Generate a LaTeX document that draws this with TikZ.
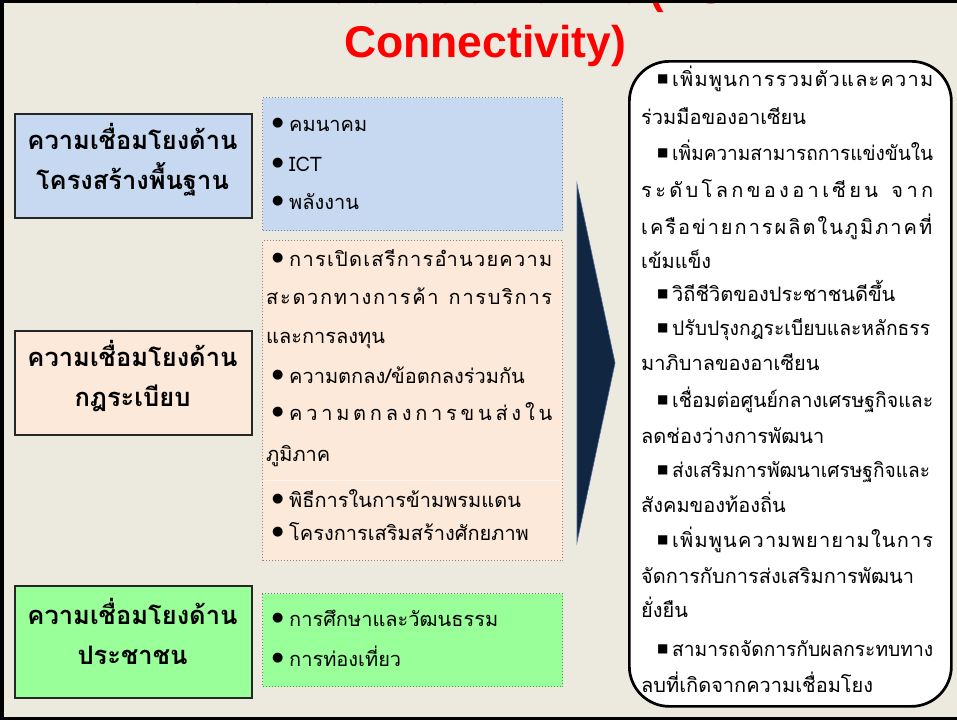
\documentclass[tikz,border=0pt]{standalone}
\usepackage{fontspec}
\newfontfamily\thai[Script=Thai]{Loma}
\newfontfamily\symf{DejaVu Sans}
\newfontfamily\latinb{Liberation Sans}
\definecolor{bgc}{RGB}{236,233,223}
\definecolor{bluefill}{RGB}{198,217,240}
\definecolor{peachfill}{RGB}{253,233,217}
\definecolor{greenfill}{RGB}{153,255,153}
\definecolor{navy}{RGB}{17,38,64}
\definecolor{navyedge}{RGB}{70,100,150}
\definecolor{bluedot}{RGB}{120,135,160}
\definecolor{peachdot}{RGB}{150,130,115}
\definecolor{greendot}{RGB}{100,140,100}
\ExplSyntaxOn
\box_new:N \l_my_line_box
\NewDocumentCommand\fitline{m m}{
  \seq_set_split:Nnn \l_tmpa_seq {|} {#2}
  \hbox_set:Nn \l_my_line_box {\seq_use:Nn \l_tmpa_seq {}}
  \dim_compare:nNnTF {\box_wd:N \l_my_line_box} < {#1}
    {\hbox_to_wd:nn {#1} {\seq_use:Nn \l_tmpa_seq {\hfil}}}
    {
      \box_scale:Nnn \l_my_line_box
        {\fp_eval:n {\dim_to_fp:n {#1} / \dim_to_fp:n {\box_wd:N \l_my_line_box}}} {1}
      \box_use:N \l_my_line_box
    }
}
\ExplSyntaxOff
\newcommand\cbul{\makebox[17pt][l]{\symf\fontsize{13}{13}\selectfont\raisebox{4.5pt}{●}}}
\newcommand\sbul{\makebox[15pt][l]{\symf\fontsize{12}{12}\selectfont\raisebox{3.5pt}{■}}}
\tikzset{
  lbl/.style={draw=black!85, line width=1.6pt, inner sep=0, anchor=north west, minimum width=237pt, minimum height=104pt},
  cbox/.style={dotted, line width=1pt, inner sep=0, anchor=north west, minimum width=300pt},
  hd/.style={anchor=base, inner sep=0, font=\thai\bfseries\fontsize{25.5}{30}\selectfont},
  ln/.style={anchor=base west, inner sep=0, font=\thai\fontsize{20}{24}\selectfont},
  rn/.style={anchor=base west, inner sep=0, font=\thai\fontsize{20}{24}\selectfont},
}
\begin{document}
\begin{tikzpicture}[x=1pt,y=-1pt]
\useasboundingbox (0,0) rectangle (957,720);
\fill[bgc] (0,0) rectangle (957,720);
% clipped first title line
\begin{scope}
\clip (0,0) rectangle (957,720);
\node[anchor=base, inner sep=0, text=red, font=\thai\bfseries\fontsize{44}{50}\selectfont] (t1) at (485,3.8) {ความเชื่อมโยงในอาเซียน {\latinb\bfseries (ASEAN}};
\end{scope}
\node[anchor=base, inner sep=0, text=red, font=\latinb\bfseries\fontsize{44.5}{50}\selectfont] (t2) at (485,57) {Connectivity)};
% frame
\draw[line width=3.5pt] (1.75,1.5) rectangle (970,718.25);
% content boxes
\node[cbox, draw=bluedot, fill=bluefill, minimum height=133pt] (cb1) at (262,97) {};
\node[cbox, draw=peachdot, fill=peachfill, minimum height=320pt] (cb2) at (262,240) {};
\node[cbox, draw=greendot, fill=greenfill, minimum height=93pt] (cb3) at (262,593) {};
\draw[white!55!peachfill, line width=1pt] (263,480) -- (561,480);
% label boxes
\node[lbl, fill=bluefill] (lb1) at (14,113) {};
\node[lbl, fill=peachfill] (lb2) at (14,330) {};
\node[lbl, fill=greenfill, minimum height=112pt] (lb3) at (14,585) {};
% arrow
\fill[navy, draw=navyedge, line width=0.6pt] (577,184) -- (615,363) -- (577,542) -- cycle;
% right box
\node[draw=black, line width=2.7pt, fill=white, rounded corners=40pt, inner sep=0, anchor=north west, minimum width=322pt, minimum height=645pt] (rb) at (628,60) {};
% label texts
\node[hd] (h1a) at (132.5,149) {ความเชื่อมโยงด้าน};
\node[hd] (h1b) at (132.5,189) {โครงสร้างพื้นฐาน};
\node[hd] (h2a) at (132.5,366) {ความเชื่อมโยงด้าน};
\node[hd] (h2b) at (132.5,406) {กฎระเบียบ};
\node[hd] (h3a) at (132.5,624) {ความเชื่อมโยงด้าน};
\node[hd] (h3b) at (132.5,664) {ประชาชน};
% blue content
\node[ln] (b1) at (272,131) {\cbul คมนาคม};
\node[ln] (b2) at (272,171) {\cbul ICT};
\node[ln] (b3) at (272,209) {\cbul พลังงาน};
% peach content
\node[ln] (p1) at (272,266) {\cbul\fitline{263pt}{ก|า|ร|เ|ปิ|ด|เ|ส|รี|ก|า|ร|อำ|น|ว|ย|ค|ว|า|ม}};
\node[ln] (p2) at (266,304) {\fitline{286pt}{ส|ะ|ด|ว|ก|ท|า|ง|ก|า|ร|ค้|า|\ |ก|า|ร|บ|ริ|ก|า|ร}};
\node[ln] (p3) at (266,343) {และการลงทุน};
\node[ln] (p4) at (272,383) {\cbul ความตกลง/ข้อตกลงร่วมกัน};
\node[ln] (p5) at (272,420) {\cbul\fitline{263pt}{ค|ว|า|ม|ต|ก|ล|ง|ก|า|ร|ข|น|ส่|ง|ใ|น}};
\node[ln] (p6) at (266,461) {ภูมิภาค};
\node[ln] (p7) at (272,507) {\cbul พิธีการในการข้ามพรมแดน};
\node[ln] (p8) at (272,540) {\cbul โครงการเสริมสร้างศักยภาพ};
% green content
\node[ln] (g1) at (272,626) {\cbul การศึกษาและวัฒนธรรม};
\node[ln] (g2) at (272,666) {\cbul การท่องเที่ยว};
% right box content
\node[rn] (r1) at (657,86) {\sbul\fitline{261pt}{เ|พิ่|ม|พู|น|ก|า|ร|ร|ว|ม|ตั|ว|แ|ล|ะ|ค|ว|า|ม}};
\node[rn] (r2) at (641,124) {ร่วมมือของอาเซียน};
\node[rn] (r3) at (657,160) {\sbul\fitline{261pt}{เ|พิ่|ม|ค|ว|า|ม|ส|า|ม|า|ร|ถ|ก|า|ร|แ|ข่|ง|ขั|น|ใ|น}};
\node[rn] (r4) at (641,197) {\fitline{292pt}{ร|ะ|ดั|บ|โ|ล|ก|ข|อ|ง|อ|า|เ|ซี|ย|น|\ |จ|า|ก}};
\node[rn] (r5) at (641,234) {\fitline{291pt}{เ|ค|รื|อ|ข่|า|ย|ก|า|ร|ผ|ลิ|ต|ใ|น|ภู|มิ|ภ|า|ค|ที่}};
\node[rn] (r6) at (641,268) {เข้มแข็ง};
\node[rn] (r7) at (657,301) {\sbul วิถีชีวิตของประชาชนดีขึ้น};
\node[rn] (r8) at (657,335) {\sbul\fitline{258pt}{ปรับปรุงกฎระเบียบและหลักธรร}};
\node[rn] (r9) at (641,370) {มาภิบาลของอาเซียน};
\node[rn] (r10) at (657,407) {\sbul\fitline{261pt}{เชื่อมต่อศูนย์กลางเศรษฐกิจและ}};
\node[rn] (r11) at (641,443) {ลดช่องว่างการพัฒนา};
\node[rn] (r12) at (657,477) {\sbul\fitline{258pt}{ส่งเสริมการพัฒนาเศรษฐกิจและ}};
\node[rn] (r13) at (641,512) {สังคมของท้องถิ่น};
\node[rn] (r14) at (657,547) {\sbul\fitline{261pt}{เ|พิ่|ม|พู|น|ค|ว|า|ม|พ|ย|า|ย|า|ม|ใ|น|ก|า|ร}};
\node[rn] (r15) at (641,583) {\fitline{291pt}{จัดการกับการส่งเสริมการพัฒนา}};
\node[rn] (r16) at (641,617) {ยั่งยืน};
\node[rn] (r17) at (657,656) {\sbul\fitline{261pt}{สามารถจัดการกับผลกระทบทาง}};
\node[rn] (r18) at (641,692) {ลบที่เกิดจากความเชื่อมโยง};
\end{tikzpicture}
\end{document}
